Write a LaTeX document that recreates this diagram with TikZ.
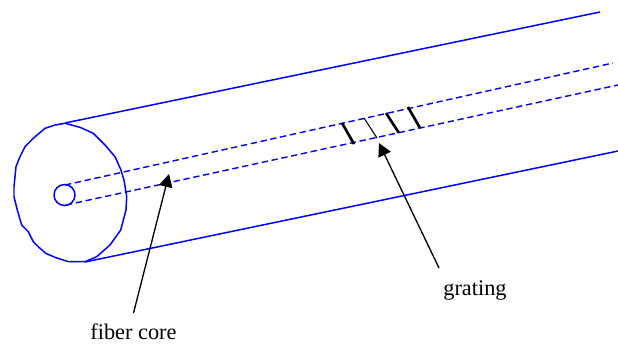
\documentclass[tikz,border=0pt]{standalone}
\usepackage{fontspec}
\setmainfont{Liberation Serif}
\usetikzlibrary{arrows.meta, positioning}

\begin{document}
\begin{tikzpicture}[
    x=0.02cm, y=-0.02cm,
    font=\fontsize{12.7}{15}\selectfont,
    >={Triangle[length=0.26cm, width=0.27cm]},
    fiberline/.style={draw=blue, line width=0.85pt},
    coreline/.style={draw=blue, line width=0.8pt, dash pattern=on 3.6pt off 2.1pt},
    gratingbar/.style={draw=black, line width=#1},
    pointer/.style={->, black, line width=0.75pt},
    tag/.style={inner sep=0pt, anchor=base},
]
    \useasboundingbox (0,0) rectangle (618,343);

    % Fiber end face
    \draw[fiberline, line join=round] plot coordinates {
      (65,123.3) (80,127.3) (93.3,133.3) (105,145) (115,156.7) (120.7,169.3) (124,180)
      (126.7,196.7) (126,210) (120.7,230) (110,245) (96.7,256.7) (85,261.7) (68.3,261.7)
      (55,257.3) (45.7,253.3) (38.3,246.7) (33.3,241.7) (28.3,231.7) (21.7,225) (17.3,210)
      (14,196.7) (14,186.7) (16,166.7) (20,156.7) (25,146.7) (33.3,138.3) (45,128.3)
      (55,125) (65,123.3)};
    \node[circle, fiberline, minimum size=0.42cm, inner sep=0pt] (core_end) at (64.5,195) {};

    % Cladding
    \coordinate (clad_top_a) at (65,123);
    \coordinate (clad_top_b) at (600,12);
    \coordinate (clad_bot_a) at (85,262);
    \coordinate (clad_bot_b) at (618,151);
    \draw[fiberline] (clad_top_a) -- (clad_top_b);
    \draw[fiberline] (clad_bot_a) -- (clad_bot_b);

    % Core
    \coordinate (core_top_a) at (65,185);
    \coordinate (core_top_b) at (613,63);
    \coordinate (core_bot_a) at (66,205);
    \coordinate (core_bot_b) at (618,85);
    \draw[coreline] (core_top_a) -- (core_top_b);
    \draw[coreline] (core_bot_a) -- (core_bot_b);

    % Grating
    \coordinate (bar_a_top) at (342,123);
    \coordinate (bar_a_bot) at (354,144);
    \coordinate (bar_b_top) at (364,118);
    \coordinate (bar_b_bot) at (377,138);
    \coordinate (bar_c_top) at (386,113);
    \coordinate (bar_c_bot) at (399,133);
    \coordinate (bar_d_top) at (408,107);
    \coordinate (bar_d_bot) at (420,128);
    \draw[gratingbar=1.5pt] (bar_a_top) -- (bar_a_bot);
    \draw[gratingbar=0.6pt] (bar_b_top) -- (bar_b_bot);
    \draw[gratingbar=1.5pt] (bar_c_top) -- (bar_c_bot);
    \draw[gratingbar=1.5pt] (bar_d_top) -- (bar_d_bot);

    % Labels
    \node[tag] (core_label) at (133.5,339) {fiber core};
    \node[tag] (grating_label) at (475,295) {grating};
    \coordinate (core_tip) at (169,174);
    \coordinate (grating_tip) at (379,143);
    \coordinate (core_tail) at (133.5,313);
    \coordinate (grating_tail) at (439,268);
    \draw[pointer] (core_tail) -- (core_tip);
    \draw[pointer] (grating_tail) -- (grating_tip);
\end{tikzpicture}
\end{document}
